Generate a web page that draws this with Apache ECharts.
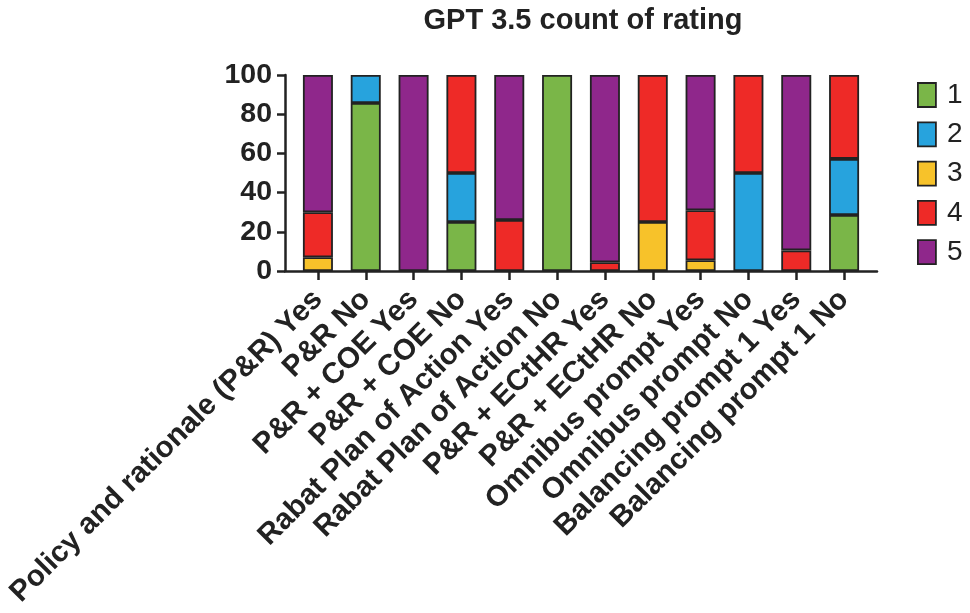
<!DOCTYPE html>
<html>
<head>
<meta charset="utf-8">
<script src="https://cdn.jsdelivr.net/npm/echarts@6/dist/echarts.min.js"></script>
<style>
  html, body { margin: 0; padding: 0; background: #fff; }
  #main { width: 970px; height: 613px; }
</style>
</head>
<body>
<div id="main"></div>
<script>
const CATEGORIES = [
  'Policy and rationale (P&R) Yes', 'P&R No', 'P&R + COE Yes', 'P&R + COE No',
  'Rabat Plan of Action Yes', 'Rabat Plan of Action No', 'P&R + ECtHR Yes', 'P&R + ECtHR No',
  'Omnibus prompt Yes', 'Omnibus prompt No', 'Balancing prompt 1 Yes', 'Balancing prompt 1 No',
]
const RATINGS = ['1', '2', '3', '4', '5']
const COLORS = ['#7ab648', '#27a3dd', '#f7c22a', '#ee2a27', '#8f278b']

// percent of answers per rating, one value per category
const RATING_1 = [0, 85.7, 0, 25, 0, 100, 0, 0, 0, 0, 0, 28.6]
const RATING_2 = [0, 14.3, 0, 25, 0, 0, 0, 0, 0, 50, 0, 28.6]
const RATING_3 = [7, 0, 0, 0, 0, 0, 0, 25, 5.5, 0, 0, 0]
const RATING_4 = [23, 0, 0, 50, 26, 0, 4.5, 75, 25.5, 50, 10.5, 42.8]
const RATING_5 = [70, 0, 100, 0, 74, 0, 95.5, 0, 69, 0, 89.5, 0]
const VALUES = [RATING_1, RATING_2, RATING_3, RATING_4, RATING_5]

const INK = '#222'
const FONT = 'Liberation Sans, Arial, sans-serif'
const AXIS_LINE = { color: INK, width: 2.5 }

function buildSeries() {
  return RATINGS.map((name, k) => ({
    name,
    type: 'bar',
    stack: 'total',
    barWidth: 30,
    xAxisIndex: 0,
    yAxisIndex: 0,
    itemStyle: { color: COLORS[k], borderColor: INK, borderWidth: 1.8 },
    data: VALUES[k].map((v) => (v === 0 ? '-' : v)),
  }))
}

function main() {
  const chart = echarts.init(document.getElementById('main'))
  chart.setOption({
    animation: false,
    textStyle: { fontFamily: FONT },
    title: {
      text: 'GPT 3.5 count of rating',
      left: 578,
      textAlign: 'center',
      top: 1,
      textStyle: { fontSize: 29, fontWeight: 'bold', color: INK, fontFamily: FONT },
    },
    legend: {
      orient: 'vertical',
      left: 917,
      top: 81,
      padding: 0,
      icon: 'rect',
      itemWidth: 18,
      itemHeight: 24,
      itemGap: 11.3,
      data: RATINGS,
      itemStyle: { borderColor: INK, borderWidth: 1.8 },
      textStyle: { fontSize: 28, color: INK, fontFamily: FONT, padding: [0, 0, 0, 6] },
    },
    grid: [
      // bars
      { left: 294, right: 102, top: 75, bottom: 342 },
      // frame: axis lines and y labels
      { left: 285, right: 93, top: 75, bottom: 342 },
    ],
    xAxis: [
      {
        type: 'category',
        gridIndex: 0,
        data: CATEGORIES,
        axisLine: { show: false },
        axisTick: { show: true, alignWithLabel: true, length: 9, lineStyle: AXIS_LINE },
        axisLabel: {
          interval: 0,
          rotate: 45,
          margin: 24,
          fontSize: 29.5,
          fontWeight: 'bold',
          color: INK,
          fontFamily: FONT,
        },
      },
      {
        type: 'value',
        gridIndex: 1,
        min: 0,
        max: 1,
        splitLine: { show: false },
        axisLine: { show: true, lineStyle: AXIS_LINE },
        axisTick: { show: false },
        axisLabel: { show: false },
      },
    ],
    yAxis: [
      {
        type: 'value',
        gridIndex: 0,
        min: 0,
        max: 100,
        show: false,
      },
      {
        type: 'value',
        gridIndex: 1,
        min: 0,
        max: 100,
        interval: 20,
        splitLine: { show: false },
        axisLine: { show: true, lineStyle: AXIS_LINE },
        axisTick: { show: true, length: 8, lineStyle: AXIS_LINE },
        axisLabel: { fontSize: 28.5, fontWeight: 'bold', color: INK, margin: 13, fontFamily: FONT },
      },
    ],
    series: buildSeries(),
  })
}

window.onload = main
</script>
</body>
</html>
